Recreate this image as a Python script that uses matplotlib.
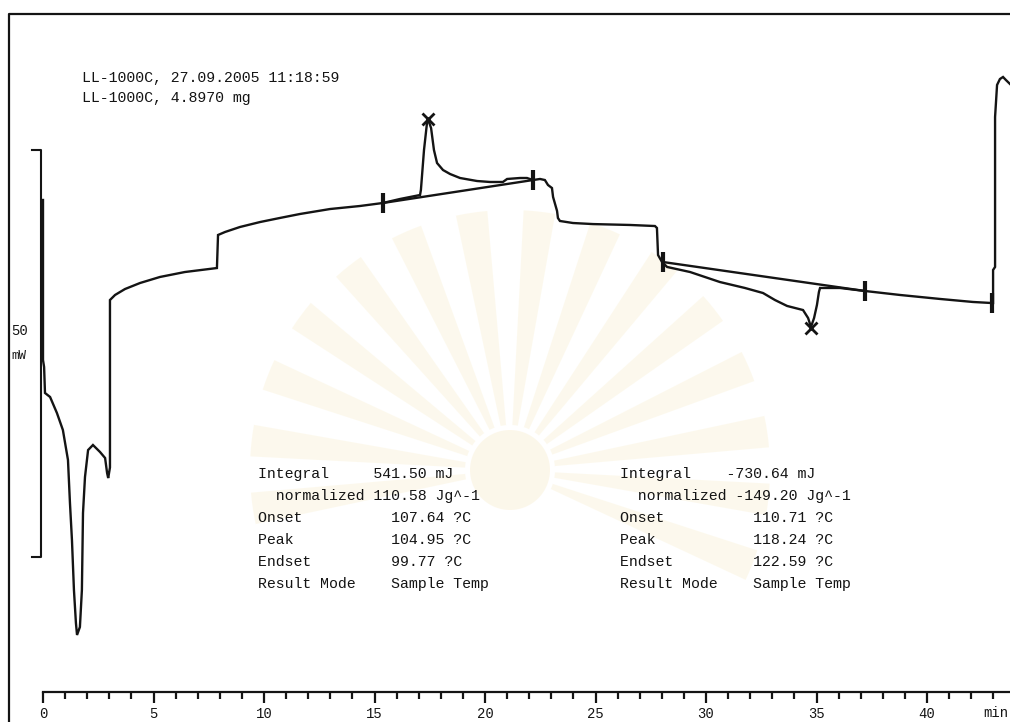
import matplotlib
matplotlib.use("Agg")
import matplotlib.pyplot as plt
from matplotlib.lines import Line2D
from matplotlib.patches import Wedge
from matplotlib.transforms import IdentityTransform

plt.rcParams['font.family'] = ['Liberation Mono', 'DejaVu Sans Mono']

W, H = 1010, 722
# plotter scale: 22.1 px per minute, 8.14 px per mW
PX_MIN, PX_MW = 22.1, 8.14
X0, Y0 = 43, 557

# DSC trace, time in min, heat flow in mW (relative)
time_min = [0.00, 0.00, 0.05, 0.09, 0.32, 0.63, 0.90, 1.13, 1.22, 1.31, 1.40,
            1.49, 1.54, 1.67, 1.76, 1.81, 1.90, 2.04, 2.26, 2.58, 2.81, 2.90,
            2.95, 3.03, 3.03, 3.26, 3.71, 4.39, 5.29, 6.42, 7.87, 7.92, 8.24,
            8.91, 9.82, 10.72, 11.63, 12.99, 14.34, 15.38, 16.15, 17.06, 17.10,
            17.24, 17.38, 17.42, 17.56, 17.69, 17.83, 18.10, 18.42, 18.87,
            19.64, 20.23, 20.81, 21.00, 21.58, 21.90, 22.17, 22.49, 22.71,
            22.85, 23.03, 23.08, 23.26, 23.30, 23.39, 23.98, 24.89, 26.56,
            27.69, 27.78, 27.83, 28.01, 28.24, 29.28, 30.63, 31.76, 32.58,
            33.12, 33.67, 34.39, 34.62, 34.75, 34.89, 35.02, 35.11, 35.16,
            36.06, 37.19, 38.78, 40.59, 42.08, 42.94, 42.99, 42.99, 43.08,
            43.08, 43.17, 43.30, 43.44, 43.57, 43.85]
heat_flow_mw = [43.86, 24.20, 23.34, 20.15, 19.66, 17.69, 15.60, 11.92, 6.63,
                2.09, -4.05, -8.11, -9.58, -8.60, -4.05, 5.41, 9.83, 13.14,
                13.76, 12.90, 12.16, 10.32, 9.70, 11.00, 31.57, 32.19, 32.92,
                33.66, 34.40, 35.01, 35.50, 39.56, 39.93, 40.54, 41.15, 41.65,
                42.14, 42.75, 43.12, 43.49, 43.98, 44.47, 45.09, 50.00, 53.44,
                53.80, 52.70, 50.00, 48.40, 47.54, 47.05, 46.56, 46.19, 46.07,
                46.07, 46.44, 46.56, 46.56, 46.31, 46.44, 46.31, 45.70, 45.33,
                44.23, 42.51, 41.65, 41.28, 41.03, 40.90, 40.79, 40.66, 40.42,
                37.10, 36.24, 35.63, 35.01, 33.78, 33.05, 32.43, 31.57, 30.84,
                30.34, 29.36, 28.26, 29.36, 30.96, 32.56, 33.05, 33.05, 32.68,
                32.19, 31.70, 31.33, 31.20, 31.20, 35.26, 35.63, 54.05, 57.99,
                58.72, 58.97, 58.60, 57.86]

# integration limits, baselines and peak positions
limit_t = [15.38, 22.17, 28.05, 37.19, 42.94]
limit_mw = [43.49, 46.31, 36.24, 32.68, 31.20]
baseline1_t, baseline1_mw = [15.38, 22.17], [43.49, 46.31]
baseline2_t, baseline2_mw = [28.05, 37.19], [36.24, 32.68]
peak_t, peak_mw = [17.42, 34.75], [53.80, 28.13]

header = ["LL-1000C, 27.09.2005 11:18:59", "LL-1000C, 4.8970 mg"]
result1 = ["Integral     541.50 mJ",
           "  normalized 110.58 Jg^-1",
           "Onset          107.64 ?C",
           "Peak           104.95 ?C",
           "Endset         99.77 ?C",
           "Result Mode    Sample Temp"]
result2 = ["Integral    -730.64 mJ",
           "  normalized -149.20 Jg^-1",
           "Onset          110.71 ?C",
           "Peak           118.24 ?C",
           "Endset         122.59 ?C",
           "Result Mode    Sample Temp"]
major_ticks = [0, 5, 10, 15, 20, 25, 30, 35, 40]
minor_ticks = list(range(0, 44))

ink = '#141414'
fig = plt.figure(figsize=(W / 100, H / 100), dpi=100)
fig.patch.set_facecolor('white')

# faint library stamp behind the plot
px = IdentityTransform()
for i in range(15):
    a0 = -25 + i * 15
    fig.add_artist(Wedge((510, H - 470), 260, a0, a0 + 7, width=215,
                         transform=px, color='#fbf4df', alpha=0.55, lw=0,
                         zorder=0))
fig.add_artist(Wedge((510, H - 470), 40, 0, 360, transform=px,
                     color='#f9f0d6', alpha=0.5, lw=0, zorder=0))

ax = fig.add_axes([0, 0, 1, 1])
ax.set_xlim(-X0 / PX_MIN, (W - X0) / PX_MIN)
ax.set_ylim((Y0 - H) / PX_MW, Y0 / PX_MW)
ax.patch.set_visible(False)
for side in ['top', 'left', 'right']:
    ax.spines[side].set_visible(False)

# time ruler
ax.spines['bottom'].set_position(('data', (Y0 - 692) / PX_MW))
ax.spines['bottom'].set_bounds(0, (W - X0) / PX_MIN)
ax.spines['bottom'].set_linewidth(1.6)
ax.spines['bottom'].set_color(ink)
ax.set_xticks(major_ticks)
ax.set_xticks(minor_ticks, minor=True)
ax.set_yticks([])
ax.tick_params(axis='x', which='major', length=8, width=1.6, color=ink,
               pad=3, labelsize=10, labelcolor=ink)
ax.tick_params(axis='x', which='minor', length=5, width=1.6, color=ink)
ax.text(42.55, (Y0 - 713) / PX_MW, "min", fontsize=10, color=ink,
        ha='left', va='center')

# curve, integration baselines and markers
ax.plot(time_min, heat_flow_mw, color=ink, lw=1.7, solid_joinstyle='miter')
ax.plot(baseline1_t, baseline1_mw, color=ink, lw=1.7)
ax.plot(baseline2_t, baseline2_mw, color=ink, lw=1.7)
ax.plot(limit_t, limit_mw, ls='none', marker='|', ms=14, mew=3, color=ink)
ax.plot(peak_t, peak_mw, ls='none', marker='x', ms=9, mew=2, color=ink)

# 50 mW scale bar
ax.plot([-0.50, -0.09, -0.09, -0.50], [50, 50, 0, 0], color=ink, lw=1.5)
fig.text(11 / W, 1 - 331 / H, "50", fontsize=10, color=ink, va='center')
fig.text(11 / W, 1 - 356 / H, "mW", fontsize=9, color=ink, va='center')

# page frame
fig.add_artist(Line2D([8.5 / W, 8.5 / W, 1], [0, 1 - 14 / H, 1 - 14 / H],
                      color=ink, lw=1.6))

for i, line in enumerate(header):
    fig.text(82 / W, 1 - (78 + 20 * i) / H, line, fontsize=10.7, color=ink,
             va='center')
for i, line in enumerate(result1):
    fig.text(258 / W, 1 - (474 + 22 * i) / H, line, fontsize=10.7, color=ink,
             va='center')
for i, line in enumerate(result2):
    fig.text(620 / W, 1 - (474 + 22 * i) / H, line, fontsize=10.7, color=ink,
             va='center')

fig.savefig("out.png", dpi=100)
